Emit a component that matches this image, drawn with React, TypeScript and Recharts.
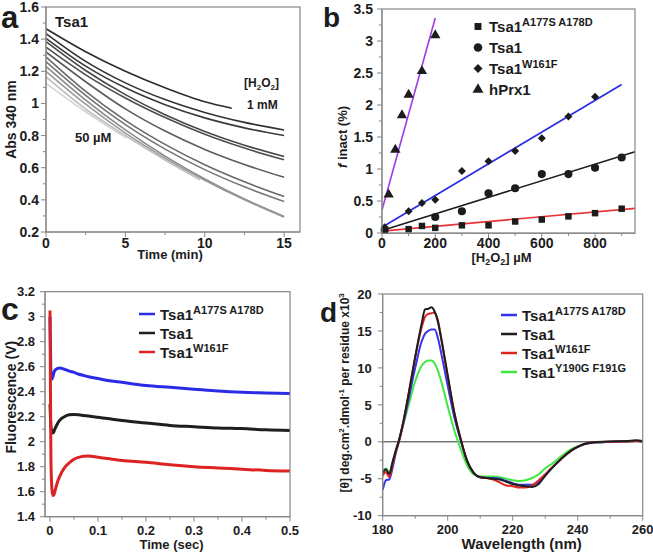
import React from "react";
import {
  LineChart,
  ComposedChart,
  Line,
  Scatter,
  XAxis,
  YAxis,
  Legend,
  ReferenceLine,
  Symbols,
} from "recharts";

const FONT = "'Liberation Sans', Arial, Helvetica, sans-serif";
const AXIS = "#858585";
const INK = "#1c1c1c";

// ---- a: Abs 340 nm vs time, one trace per [H2O2] (1 mM on top, 50 µM at the bottom)
const aTraces: [number, number][][] = [
  [[0, 1.465], [2.5, 1.322], [5, 1.2], [7.5, 1.097], [10, 1.01], [11.7, 0.97]],
  [[0, 1.435], [2.5, 1.262], [5, 1.128], [7.5, 1.024], [10, 0.944], [12.5, 0.882], [15, 0.835]],
  [[0, 1.405], [2.5, 1.232], [5, 1.097], [7.5, 0.992], [10, 0.91], [12.5, 0.848], [15, 0.8]],
  [[0, 1.385], [2.5, 1.205], [5, 1.055], [7.5, 0.93], [10, 0.826], [12.5, 0.74], [15, 0.67]],
  [[0, 1.35], [2.5, 1.178], [5, 1.034], [7.5, 0.912], [10, 0.808], [12.5, 0.722], [15, 0.649]],
  [[0, 1.32], [2.5, 1.135], [5, 0.966], [7.5, 0.828], [10, 0.714], [12.5, 0.62], [15, 0.54]],
  [[0, 1.29], [2.5, 1.075], [5, 0.895], [7.5, 0.745], [10, 0.618], [12.5, 0.512], [15, 0.421]],
  [[0, 1.26], [2.5, 1.05], [5, 0.868], [7.5, 0.716], [10, 0.588], [12.5, 0.481], [15, 0.39]],
  [[0, 1.23], [2.5, 1.02], [5, 0.835], [7.5, 0.672], [10, 0.53], [12.5, 0.405], [15, 0.297]],
  [[0, 1.2], [2.5, 0.995], [5, 0.815], [7.5, 0.66], [10, 0.522], [12.5, 0.4], [15, 0.292]],
  [[0, 1.165], [2.5, 0.965], [5, 0.8], [7.5, 0.648], [9.7, 0.525]],
  [[0, 1.125], [2.5, 0.948], [5.1, 0.783]],
];
const aShades = [
  "#2b2b2b", "#333333", "#3a3a3a", "#474747", "#4f4f4f", "#5c5c5c",
  "#6a6a6a", "#767676", "#8a8a8a", "#9a9a9a", "#bdbdbd", "#d4d4d4",
];
const aXTicks = [0, 2.5, 5, 7.5, 10, 12.5, 15];
const aXMajor = [0, 5, 10, 15];
const aYTicks = [0.2, 0.3, 0.4, 0.5, 0.6, 0.7, 0.8, 0.9, 1, 1.1, 1.2, 1.3, 1.4, 1.5, 1.6];
const aYMajor = [0.2, 0.4, 0.6, 0.8, 1, 1.2, 1.4, 1.6];

// ---- b: f inact (%) vs [H2O2] µM
const bA177S: [number, number][] = [
  [10, 0.04], [100, 0.06], [150, 0.11], [200, 0.08], [300, 0.12], [400, 0.12],
  [500, 0.18], [600, 0.21], [700, 0.26], [800, 0.31], [900, 0.38],
];
const bTsa1: [number, number][] = [
  [10, 0.05], [200, 0.25], [300, 0.34], [400, 0.62], [500, 0.7], [600, 0.92],
  [700, 0.92], [800, 1.02], [900, 1.18],
];
const bW161F: [number, number][] = [
  [10, 0.09], [100, 0.34], [150, 0.47], [200, 0.52], [300, 0.97], [400, 1.12],
  [500, 1.28], [600, 1.48], [700, 1.82], [800, 2.13],
];
const bHprx1: [number, number][] = [
  [25, 0.6], [50, 1.3], [75, 1.84], [100, 2.16], [150, 2.53], [200, 3.09],
];
const bFitA177S: [number, number][] = [[0, 0.03], [950, 0.385]];
const bFitTsa1: [number, number][] = [[0, 0.04], [950, 1.27]];
const bFitW161F: [number, number][] = [[0, 0.09], [900, 2.32]];
const bFitHprx1: [number, number][] = [[0, 0.36], [200, 3.36]];
const bNames = [
  ["Tsa1", "A177S A178D"],
  ["Tsa1", ""],
  ["Tsa1", "W161F"],
  ["hPrx1", ""],
];
const bXTicks = [0, 100, 200, 300, 400, 500, 600, 700, 800, 900];
const bXMajor = [0, 200, 400, 600, 800];
const bYTicks = [0, 0.25, 0.5, 0.75, 1, 1.25, 1.5, 1.75, 2, 2.25, 2.5, 2.75, 3, 3.25, 3.5];
const bYMajor = [0, 0.5, 1, 1.5, 2, 2.5, 3, 3.5];

// ---- c: stopped-flow fluorescence (V) vs time (sec)
const cTime = [
  0, 0.001, 0.002, 0.004, 0.006, 0.008, 0.01, 0.015, 0.02, 0.03, 0.04, 0.05, 0.06,
  0.07, 0.08, 0.1, 0.12, 0.15, 0.2, 0.25, 0.3, 0.35, 0.4, 0.45, 0.5,
];
const cA177S = [
  3.0, 2.75, 2.55, 2.5, 2.52, 2.55, 2.57, 2.585, 2.59, 2.58, 2.565, 2.555, 2.54,
  2.53, 2.52, 2.505, 2.49, 2.475, 2.45, 2.435, 2.42, 2.405, 2.395, 2.39, 2.385,
];
const cTsa1 = [
  2.3, 2.2, 2.12, 2.08, 2.07, 2.08, 2.1, 2.14, 2.17, 2.2, 2.215, 2.218, 2.215,
  2.21, 2.205, 2.195, 2.185, 2.17, 2.15, 2.13, 2.12, 2.11, 2.105, 2.095, 2.09,
];
const cW161F = [
  3.05, 2.4, 1.85, 1.62, 1.57, 1.575, 1.6, 1.67, 1.72, 1.79, 1.83, 1.86, 1.875,
  1.883, 1.885, 1.875, 1.865, 1.85, 1.835, 1.815, 1.8, 1.79, 1.78, 1.77, 1.765,
];
const cNames = [
  ["Tsa1", "A177S A178D"],
  ["Tsa1", ""],
  ["Tsa1", "W161F"],
];
const cColors = ["#2b2be6", "#1e1e1e", "#dd2222"];
const cXTicks = [0, 0.05, 0.1, 0.15, 0.2, 0.25, 0.3, 0.35, 0.4, 0.45, 0.5];
const cXMajor = [0, 0.1, 0.2, 0.3, 0.4, 0.5];
const cYTicks = [1.4, 1.5, 1.6, 1.7, 1.8, 1.9, 2, 2.1, 2.2, 2.3, 2.4, 2.5, 2.6, 2.7, 2.8, 2.9, 3, 3.1, 3.2];
const cYMajor = [1.4, 1.6, 1.8, 2, 2.2, 2.4, 2.6, 2.8, 3, 3.2];

// ---- d: CD spectra
const dWave = [
  180, 181, 182, 183, 184, 185, 186, 188, 190, 192, 193, 194, 195, 196, 197, 198, 200,
  202, 204, 206, 208, 210, 212, 214, 216, 218, 220, 222, 224, 226, 228, 230, 232, 234,
  236, 238, 240, 242, 245, 250, 255, 258, 260,
];
const dA177S = [
  -6.5, -5.2, -5.1, -3.6, -1.6, 0, 1.8, 5.8, 10, 13.6, 14.6, 15, 15.2, 15.2, 14, 12, 7.6,
  3.4, 0.2, -2.6, -4.2, -4.8, -4.9, -4.9, -5, -5.3, -5.6, -5.8, -5.8, -5.8, -5.4, -4.5, -3.6,
  -2.7, -1.9, -1.2, -0.7, -0.35, -0.1, 0, 0.05, 0.1, 0.05,
];
const dTsa1 = [
  -4.2, -3.7, -4.4, -2.8, -1.2, 0.2, 2, 6.5, 11.5, 16, 17.9, 18, 18.2, 17.6, 16.2, 14, 9,
  4, 0.3, -2.6, -4.2, -4.8, -4.9, -5, -5.1, -5.4, -5.7, -5.9, -6, -6.1, -5.7, -4.6, -3.6,
  -2.7, -1.9, -1.2, -0.7, -0.3, -0.05, 0.05, 0.1, 0.2, 0.1,
];
const dW161F = [
  -4.6, -4.1, -4.8, -3.2, -1.4, 0.1, 2, 6.6, 11.4, 15.5, 16.9, 17.3, 17.4, 17.5, 16.4, 14, 8.8,
  4, 0.4, -2.6, -4.2, -4.8, -4.9, -5.1, -5.5, -5.9, -6, -6.2, -6.2, -5.9, -5.2, -4.4, -3.5,
  -2.7, -1.9, -1.2, -0.7, -0.3, -0.05, 0, 0.05, 0.1, 0.05,
];
const dY190G = [
  -4, -3.6, -4.2, -2.8, -1.2, 0.2, 1.8, 5, 8.2, 10.3, 10.8, 11, 11, 10.6, 9.6, 8.2, 4.8,
  1.6, -1, -3.2, -4.4, -4.7, -4.7, -4.7, -4.8, -5, -5.2, -5.3, -5.2, -4.9, -4.4, -3.6, -3,
  -2.3, -1.6, -1, -0.6, -0.3, -0.1, 0, 0.05, 0.1, 0.05,
];
const dNames = [
  ["Tsa1", "A177S A178D"],
  ["Tsa1", ""],
  ["Tsa1", "W161F"],
  ["Tsa1", "Y190G F191G"],
];
const dColors = ["#3434ee", "#1e1e1e", "#e02424", "#3ee83e"];
const dXTicks = [180, 190, 200, 210, 220, 230, 240, 250, 260];
const dXMajor = [180, 200, 220, 240, 260];
const dYTicks = [-10, -7.5, -5, -2.5, 0, 2.5, 5, 7.5, 10, 12.5, 15, 17.5, 20];
const dYMajor = [-10, -5, 0, 5, 10, 15, 20];

const pts = (a: [number, number][]) => a.map(([x, y]) => ({ x, y }));
const near = (list: number[], v: number) => list.some((m) => Math.abs(m - v) < 1e-6);
const fmt = (v: number) => String(Number(v.toFixed(3)));
const bold = { fontFamily: FONT, fontWeight: 700, fill: INK } as const;

function bottomTick(majors: number[], size: number, drop: number) {
  return (p: any) => {
    const v = Number(p.payload.value);
    const major = near(majors, v);
    return (
      <g>
        <line x1={p.x} x2={p.x} y1={p.y} y2={p.y + (major ? 5 : 3)} stroke={AXIS} />
        {major && (
          <text x={p.x} y={p.y + drop} textAnchor="middle" fontSize={size} {...bold}>
            {fmt(v)}
          </text>
        )}
      </g>
    );
  };
}

function leftTick(majors: number[], size: number, gap: number) {
  return (p: any) => {
    const v = Number(p.payload.value);
    const major = near(majors, v);
    return (
      <g>
        <line x1={p.x - (major ? 5 : 3)} x2={p.x} y1={p.y} y2={p.y} stroke={AXIS} />
        {major && (
          <text x={p.x - gap} y={p.y + size * 0.36} textAnchor="end" fontSize={size} {...bold}>
            {fmt(v)}
          </text>
        )}
      </g>
    );
  };
}

function yTitle(children: React.ReactNode, dx: number, dy: number, size: number) {
  return (p: any) => {
    const vb = p.viewBox;
    const cx = vb.x + dx;
    const cy = vb.y + vb.height / 2 + dy;
    return (
      <text
        x={cx}
        y={cy}
        transform={`rotate(-90 ${cx} ${cy})`}
        textAnchor="middle"
        dominantBaseline="central"
        fontSize={size}
        {...bold}
      >
        {children}
      </text>
    );
  };
}

function xTitle(children: React.ReactNode, dx: number, baseline: number, size: number) {
  return (p: any) => {
    const vb = p.viewBox;
    return (
      <text x={vb.x + vb.width / 2 + dx} y={vb.y + baseline} textAnchor="middle" fontSize={size} {...bold}>
        {children}
      </text>
    );
  };
}

const lineLegend = (names: string[][], colors: string[], w: number) => () => (
  <svg width={w} height={names.length * 19 + 8}>
    {names.map(([base, sup], i) => (
      <g key={i}>
        <line x1={6} x2={22} y1={13 + i * 19} y2={13 + i * 19} stroke={colors[i]} strokeWidth={2.5} />
        <text x={27} y={18.5 + i * 19} fontSize={15} {...bold}>
          {base}
          {sup && (
            <tspan fontSize={11} dy={-6}>
              {sup}
            </tspan>
          )}
        </text>
      </g>
    ))}
  </svg>
);

const bShapes = ["square", "circle", "diamond", "triangle"] as const;
const bSizes = [42, 52, 40, 46];
const drawMarker = (i: number, cx: number, cy: number, grow: number) =>
  bShapes[i] === "diamond" ? (
    <polygon
      points={`${cx},${cy - 4 - grow / 2} ${cx + 4 + grow / 2},${cy} ${cx},${cy + 4 + grow / 2} ${cx - 4 - grow / 2},${cy}`}
      fill={INK}
    />
  ) : (
    <Symbols cx={cx} cy={cy} type={bShapes[i]} size={bSizes[i] + grow * 6} fill={INK} />
  );
const marker = (i: number) => (p: any) => drawMarker(i, p.cx, p.cy, 0);
const bLegend = () => (
  <svg width={170} height={90}>
    {bNames.map(([base, sup], i) => (
      <g key={i}>
        {drawMarker(i, 10, 12.5 + i * 21, 1)}
        <text x={21} y={18 + i * 21} fontSize={15} {...bold}>
          {base}
          {sup && (
            <tspan fontSize={11} dy={-6}>
              {sup}
            </tspan>
          )}
        </text>
      </g>
    ))}
  </svg>
);

const cRows = cTime.map((t, i) => ({ t, m: cA177S[i], w: cTsa1[i], f: cW161F[i] }));
const dRows = dWave.map((x, i) => ({ x, m: dA177S[i], w: dTsa1[i], f: dW161F[i], g: dY190G[i] }));

const place = (left: number, top: number): React.CSSProperties => ({ position: "absolute", left, top });

// plot boxes (page pixels) for the grey frame around each panel
const frames = [
  [46, 7, 254, 225],
  [382, 9, 253, 224.3],
  [45, 291.7, 245, 225],
  [382.7, 294, 260, 221.7],
];

export default function App() {
  return (
    <div style={{ position: "absolute", left: 0, top: 0, width: 653, height: 553, background: "#fff" }}>
      {/* a */}
      <div style={place(0, 0)}>
        <LineChart width={320} height={270} margin={{ top: 7, right: 20, bottom: 0, left: 6 }}>
          <XAxis
            dataKey="t"
            type="number"
            domain={[0, 16]}
            ticks={aXTicks}
            interval={0}
            height={38}
            tickSize={0}
            tickMargin={0}
            stroke={AXIS}
            tick={bottomTick(aXMajor, 14, 16)}
            label={{ content: xTitle("Time (min)", -3, 27, 13) }}
          />
          <YAxis
            type="number"
            domain={[0.2, 1.6]}
            ticks={aYTicks}
            interval={0}
            width={40}
            tickSize={0}
            tickMargin={0}
            stroke={AXIS}
            tick={leftTick(aYMajor, 14, 7)}
            label={{ content: yTitle("Abs 340 nm", 5, 0, 14) }}
          />
          {aTraces.map((tr, i) => (
            <Line
              key={i}
              data={tr.map(([t, v]) => ({ t, v }))}
              dataKey="v"
              type="monotone"
              stroke={aShades[i]}
              strokeWidth={1.6}
              dot={false}
              activeDot={false}
              isAnimationActive={false}
            />
          ))}
        </LineChart>
      </div>

      {/* b */}
      <div style={place(320, 0)}>
        <ComposedChart width={333} height={270} margin={{ top: 9, right: 18, bottom: 0, left: 22 }}>
          <XAxis
            dataKey="x"
            type="number"
            domain={[0, 950]}
            ticks={bXTicks}
            interval={0}
            height={37}
            tickSize={0}
            tickMargin={0}
            stroke={AXIS}
            tick={bottomTick(bXMajor, 14, 15)}
            label={{
              content: xTitle(
                <>
                  [H<tspan fontSize={9} dy={3}>2</tspan>
                  <tspan dy={-3}>O</tspan>
                  <tspan fontSize={9} dy={3}>2</tspan>
                  <tspan dy={-3}>] µM</tspan>
                </>,
                -7,
                29,
                13,
              ),
            }}
          />
          <YAxis
            dataKey="y"
            type="number"
            domain={[0, 3.5]}
            ticks={bYTicks}
            interval={0}
            width={40}
            tickSize={0}
            tickMargin={0}
            stroke={AXIS}
            tick={leftTick(bYMajor, 14, 9)}
            label={{
              content: yTitle(
                <>
                  <tspan fontStyle="italic">f</tspan> inact (%)
                </>,
                0,
                16,
                13,
              ),
            }}
          />
          <Line data={pts(bFitA177S)} dataKey="y" stroke="#e83434" strokeWidth={1.6} dot={false} activeDot={false} isAnimationActive={false} />
          <Line data={pts(bFitTsa1)} dataKey="y" stroke="#1e1e1e" strokeWidth={1.6} dot={false} activeDot={false} isAnimationActive={false} />
          <Line data={pts(bFitW161F)} dataKey="y" stroke="#2a2ae6" strokeWidth={1.6} dot={false} activeDot={false} isAnimationActive={false} />
          <Line data={pts(bFitHprx1)} dataKey="y" stroke="#a03ce6" strokeWidth={1.6} dot={false} activeDot={false} isAnimationActive={false} />
          <Scatter data={pts(bA177S)} shape={marker(0)} isAnimationActive={false} />
          <Scatter data={pts(bTsa1)} shape={marker(1)} isAnimationActive={false} />
          <Scatter data={pts(bW161F)} shape={marker(2)} isAnimationActive={false} />
          <Scatter data={pts(bHprx1)} shape={marker(3)} isAnimationActive={false} />
          <Legend
            layout="vertical"
            align="center"
            verticalAlign="middle"
            wrapperStyle={{ left: 148, top: 14, width: 170, height: 90 }}
            content={bLegend}
          />
        </ComposedChart>
      </div>

      {/* c */}
      <div style={place(0, 270)}>
        <LineChart width={320} height={283} data={cRows} margin={{ top: 21.7, right: 30, bottom: 0, left: 5 }}>
          <XAxis
            dataKey="t"
            type="number"
            domain={[-0.0104, 0.5]}
            ticks={cXTicks}
            interval={0}
            height={36.3}
            tickSize={0}
            tickMargin={0}
            stroke={AXIS}
            tick={bottomTick(cXMajor, 13, 18.5)}
            label={{ content: xTitle("Time (sec)", 4, 32, 13) }}
          />
          <YAxis
            type="number"
            domain={[1.4, 3.2]}
            ticks={cYTicks}
            interval={0}
            width={40}
            tickSize={0}
            tickMargin={0}
            stroke={AXIS}
            tick={leftTick(cYMajor, 13, 10)}
            label={{ content: yTitle("Fluorescence (V)", 6, -7, 14) }}
          />
          <Line dataKey="m" type="monotone" stroke={cColors[0]} strokeWidth={3} dot={false} activeDot={false} isAnimationActive={false} />
          <Line dataKey="w" type="monotone" stroke={cColors[1]} strokeWidth={3} dot={false} activeDot={false} isAnimationActive={false} />
          <Line dataKey="f" type="monotone" stroke={cColors[2]} strokeWidth={3} dot={false} activeDot={false} isAnimationActive={false} />
          <Legend
            layout="vertical"
            align="center"
            verticalAlign="middle"
            wrapperStyle={{ left: 133, top: 31, width: 160, height: 66 }}
            content={lineLegend(cNames, cColors, 160)}
          />
        </LineChart>
      </div>

      {/* d */}
      <div style={place(320, 270)}>
        <LineChart width={333} height={283} data={dRows} margin={{ top: 24, right: 10.3, bottom: 0, left: 22.7 }}>
          <XAxis
            dataKey="x"
            type="number"
            domain={[180, 260]}
            ticks={dXTicks}
            interval={0}
            height={37.3}
            tickSize={0}
            tickMargin={0}
            stroke={AXIS}
            tick={bottomTick(dXMajor, 13, 18)}
            label={{ content: xTitle("Wavelength (nm)", 9, 33.5, 15) }}
          />
          <YAxis
            type="number"
            domain={[-10, 20]}
            ticks={dYTicks}
            interval={0}
            width={40}
            tickSize={0}
            tickMargin={0}
            stroke={AXIS}
            tick={leftTick(dYMajor, 13, 11)}
            label={{
              content: yTitle(
                <>
                  [θ] deg.cm<tspan fontSize={8} dy={-4}>2</tspan>
                  <tspan dy={4}>.dmol</tspan>
                  <tspan fontSize={8} dy={-4}>-1</tspan>
                  <tspan dy={4}> per residue x10</tspan>
                  <tspan fontSize={8} dy={-4}>3</tspan>
                </>,
                2.3,
                -12,
                12,
              ),
            }}
          />
          <ReferenceLine y={0} stroke="#333" strokeWidth={1} />
          <Line dataKey="g" type="monotone" stroke={dColors[3]} strokeWidth={2} dot={false} activeDot={false} isAnimationActive={false} />
          <Line dataKey="m" type="monotone" stroke={dColors[0]} strokeWidth={2} dot={false} activeDot={false} isAnimationActive={false} />
          <Line dataKey="f" type="monotone" stroke={dColors[2]} strokeWidth={2} dot={false} activeDot={false} isAnimationActive={false} />
          <Line dataKey="w" type="monotone" stroke={dColors[1]} strokeWidth={2} dot={false} activeDot={false} isAnimationActive={false} />
          <Legend
            layout="vertical"
            align="center"
            verticalAlign="middle"
            wrapperStyle={{ left: 175, top: 32, width: 160, height: 85 }}
            content={lineLegend(dNames, dColors, 160)}
          />
        </LineChart>
      </div>

      {/* panel frames, letters and in-plot notes */}
      <svg width={653} height={553} style={{ position: "absolute", left: 0, top: 0, pointerEvents: "none" }}>
        {frames.map(([x, y, w, h], i) => (
          <rect key={i} x={x} y={y} width={w} height={h} fill="none" stroke={AXIS} strokeWidth={1.2} />
        ))}
        <text x={1} y={28} fontSize={31} {...bold}>a</text>
        <text x={323} y={27} fontSize={28} {...bold}>b</text>
        <text x={1} y={320} fontSize={32} {...bold}>c</text>
        <text x={320} y={322} fontSize={28} {...bold}>d</text>
        <text x={55} y={27} fontSize={15} {...bold}>Tsa1</text>
        <text x={244} y={87} fontSize={12} {...bold}>
          [H<tspan fontSize={8} dy={3}>2</tspan>
          <tspan dy={-3}>O</tspan>
          <tspan fontSize={8} dy={3}>2</tspan>
          <tspan dy={-3}>]</tspan>
        </text>
        <text x={247} y={109} fontSize={12} {...bold}>1 mM</text>
        <text x={75} y={142} fontSize={13} {...bold}>50 µM</text>
      </svg>
    </div>
  );
}
